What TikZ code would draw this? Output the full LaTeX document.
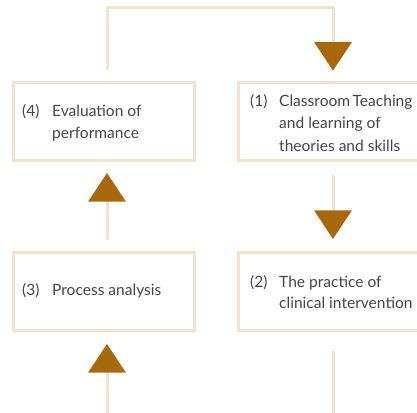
\documentclass[tikz,border=0pt]{standalone}
\usepackage{fontspec}
\setmainfont{Lato}
\usetikzlibrary{arrows.meta}

\definecolor{rail}{HTML}{F3E3CB}
\definecolor{tipbrown}{HTML}{A8690D}
\definecolor{ink}{HTML}{454545}

\tikzset{
  stagebox/.style={draw=rail, line width=3bp, minimum width=181bp,
    minimum height=78.3bp, inner sep=0pt},
  label/.style={anchor=base west, inner sep=0pt, text=ink,
    font=\fontsize{15.6}{19}\selectfont},
  flow/.style={draw=rail, line width=3bp,
    -{Triangle[length=28.5bp, width=37bp, color=tipbrown, fill=tipbrown]}},
  plain/.style={draw=rail, line width=3bp},
}

\begin{document}
\begin{tikzpicture}[x=1bp, y=1bp]
  \useasboundingbox (0,0) rectangle (417,413);
  \clip (0,0) rectangle (417,413);

  % the four stages of the cycle
  \node[stagebox] (s4) at (104,291.35) {};
  \node[stagebox] (s1) at (329,291.35) {};
  \node[stagebox] (s3) at (104,121.35) {};
  \node[stagebox] (s2) at (329,121.35) {};

  % stage texts
  \node[label] (n4) at (22,297) {(4)};
  \node[label] (t4a) at (52,297) {Evaluation of};
  \node[label] (t4b) at (52,274.5) {performance};

  \node[label] (n1) at (250,307) {(1)};
  \node[label] (t1a) at (279,307) {Classroom\hspace{2.5bp}Teaching};
  \node[label] (t1b) at (279,284.5) {and learning of};
  \node[label] (t1c) at (279,262) {theories and skills};

  \node[label] (n3) at (22,118) {(3)};
  \node[label] (t3a) at (52,118) {Process analysis};

  \node[label] (n2) at (250,126) {(2)};
  \node[label] (t2a) at (279,126) {The practice of};
  \node[label] (t2b) at (279,104.5) {clinical intervention};

  % columns of the connectors and the free ends
  \coordinate (colL) at (107,0);
  \coordinate (colR) at (333,0);
  \coordinate (topL) at (107,405);
  \coordinate (topR) at (333,405);
  \coordinate (inL) at (107,0);
  \coordinate (outR) at (333,0);

  % (4) back to (1) over the top
  \draw[flow, shorten <=11bp, shorten >=10.3bp]
    (s4.north -| colL) -- (topL) -- (topR) -- (s1.north -| colR);
  % (1) down to (2)
  \draw[flow, shorten <=12.7bp, shorten >=12bp]
    (s1.south -| colR) -- (s2.north -| colR);
  % (3) up to (4)
  \draw[flow, shorten <=11bp, shorten >=10.7bp]
    (s3.north -| colL) -- (s4.south -| colL);
  % incoming line into (3)
  \draw[flow, shorten >=11.7bp] (inL) -- (s3.south -| colL);
  % outgoing line from (2)
  \draw[plain, shorten <=18.7bp] (s2.south -| colR) -- (outR);
\end{tikzpicture}
\end{document}
